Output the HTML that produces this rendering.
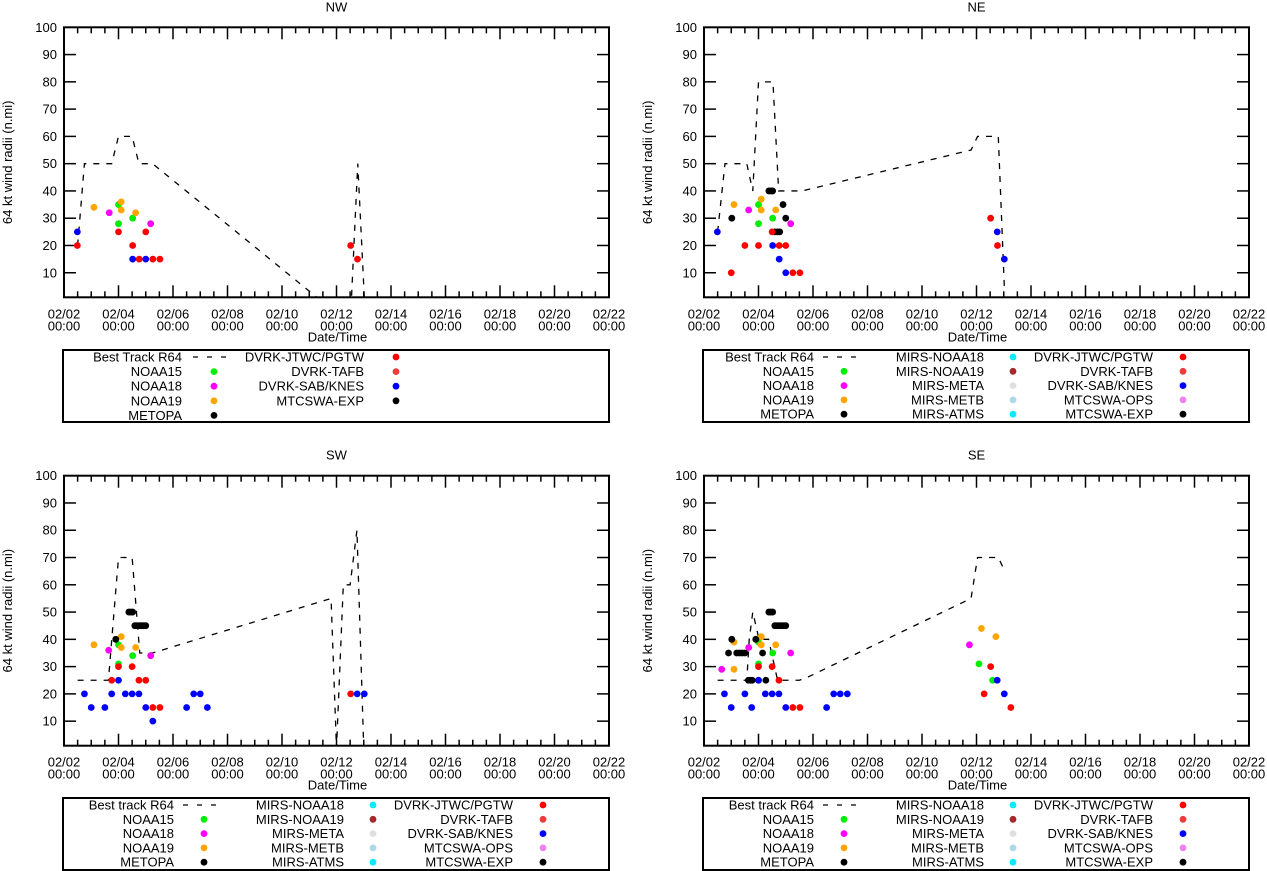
<!DOCTYPE html>
<html><head><meta charset="utf-8">
<style>
html,body{margin:0;padding:0;background:#fff;}
svg{display:block;font-family:"Liberation Sans",sans-serif;}
</style></head>
<body>
<svg id="chart" width="1267" height="871" xmlns="http://www.w3.org/2000/svg"></svg>
<script>
// ---- data: [day since 02/02 00:00, radius n.mi] ----
const nwBest = [[0.5,20],[0.75,50],[1.75,50],[2.0,60],[2.5,60],[2.75,50],[3.25,50],[9.4,0],[10.5,-10],[10.78,50],[11.05,-5]];
const nwGreen = [[2.0,35],[2.0,28],[2.52,30]];
const nwMagenta = [[1.66,32],[3.18,28]];
const nwOrange = [[1.1,34],[2.1,36],[2.1,33],[2.63,32]];
const nwRed = [[0.49,20],[2.0,25],[2.52,20],[2.76,15],[3.0,25],[3.26,15],[3.52,15],[10.52,20],[10.77,15]];
const nwBlue = [[0.49,25],[2.52,15],[3.0,15]];
const nwBlack = [];

const neBest = [[0.5,25],[0.77,50],[1.57,50],[1.79,40],[2.0,80],[2.06,80],[2.53,80],[2.74,40],[3.6,40],[9.8,55],[10.04,60],[10.8,60],[11.02,5]];
const neGreen = [[2.0,35],[2.0,28],[2.52,30]];
const neMagenta = [[1.64,33],[3.18,28]];
const neOrange = [[1.1,35],[2.1,37],[2.1,33],[2.63,33]];
const neRed = [[1.0,10],[1.5,20],[2.0,20],[2.5,25],[2.76,20],[3.0,20],[3.26,10],[3.52,10],[10.52,30],[10.77,20]];
const neBlue = [[0.49,25],[2.52,20],[2.76,15],[3.0,10],[10.76,25],[11.02,15]];
const neBlack = [[1.02,30],[2.38,40],[2.45,40],[2.52,40],[2.6,25],[2.7,25],[2.78,25],[2.9,35],[3.0,30]];

const swBest = [[0.5,25],[1.63,25],[2.0,70],[2.5,70],[2.78,35],[3.25,35],[9.8,55],[10.0,0],[10.25,60],[10.5,60],[10.75,80],[11.0,0]];
const swGreen = [[2.0,38],[2.0,31],[2.52,34]];
const swMagenta = [[1.64,36],[3.18,34]];
const swOrange = [[1.1,38],[2.1,41],[2.1,37],[2.63,37]];
const swRed = [[1.75,25],[2.0,30],[2.5,30],[2.75,25],[3.0,25],[3.26,15],[3.52,15],[10.52,20]];
const swBlue = [[0.75,20],[1.0,15],[1.5,15],[1.75,20],[2.0,25],[2.25,20],[2.5,20],[2.75,20],[3.0,15],[3.26,10],[4.5,15],[4.76,20],[5.0,20],[5.26,15],[10.76,20],[11.02,20]];
const swBlack = [[1.9,40],[2.38,50],[2.45,50],[2.52,50],[2.6,45],[2.68,45],[2.76,45],[2.84,45],[2.92,45],[3.0,45]];

const seBest = [[0.5,25],[1.57,25],[1.66,40],[1.79,50],[2.02,40],[2.37,40],[2.7,25],[3.5,25],[3.78,26],[9.8,55],[10.04,70],[10.8,70],[11.04,65]];
const seGreen = [[2.0,31],[2.0,39],[2.52,35],[10.09,31],[10.59,25]];
const seMagenta = [[0.65,29],[1.64,37],[3.18,35],[9.74,38]];
const seOrange = [[1.1,39],[1.1,29],[2.1,41],[2.1,38],[2.63,38],[10.18,44],[10.71,41]];
const seRed = [[2.0,30],[2.5,30],[2.75,25],[3.26,15],[3.52,15],[10.28,20],[10.52,30],[11.26,15]];
const seBlue = [[0.75,20],[1.0,15],[1.5,20],[1.75,15],[2.0,25],[2.25,20],[2.5,20],[2.75,20],[3.0,15],[4.5,15],[4.76,20],[5.0,20],[5.26,20],[10.76,25],[11.02,20]];
const seBlack = [[0.9,35],[1.02,40],[1.2,35],[1.3,35],[1.4,35],[1.5,35],[1.63,25],[1.7,25],[1.77,25],[1.9,40],[2.0,25],[2.15,35],[2.27,25],[2.38,50],[2.45,50],[2.52,50],[2.6,45],[2.68,45],[2.76,45],[2.84,45],[2.92,45],[3.0,45]];

const xTickLabels = ["02/02","02/04","02/06","02/08","02/10","02/12","02/14","02/16","02/18","02/20","02/22"];
const yTickValues = [10,20,30,40,50,60,70,80,90,100];

const COL = {green:"#00ee00",magenta:"#ff00ff",orange:"#ffa500",red:"#ff0000",blue:"#0000ff",black:"#000000",
  tafb:"#ee3b3b",cyan:"#00eeff",brown:"#a52a2a",lgrey:"#e0e0e0",lblue:"#add8e6",violet:"#ee82ee"};

const svg = document.getElementById('chart');
const NS = "http://www.w3.org/2000/svg";
function mk(tag, attrs, parent){
  const e = document.createElementNS(NS, tag);
  for (const k in attrs) e.setAttribute(k, attrs[k]);
  (parent||svg).appendChild(e);
  return e;
}

function panel(key, title, x0, yTop, series){
  const W = 545, H = 270, yBot = yTop + H;
  const g = mk('g', {});
  
  
  const xs = d => x0 + d * W / 20;
  const ys = v => yBot - (v - 1) * H / 99;
  const clipId = 'clip-' + key;
  const cp = mk('clipPath', {id: clipId}, g);
  mk('rect', {x: x0, y: yTop, width: W, height: H}, cp);

  const t = mk('text', {x: x0 + W/2, y: yTop - 16, 'text-anchor': 'middle', 'font-size': 13}, g);
  t.textContent = title;
  
  

  // y ticks
  yTickValues.forEach(v => {
    const y = ys(v);
    mk('line', {x1: x0, x2: x0 + 12, y1: y, y2: y, stroke: '#000', 'stroke-width': 1.5}, g);
    mk('line', {x1: x0 + W - 12, x2: x0 + W, y1: y, y2: y, stroke: '#000', 'stroke-width': 1.5}, g);
    const l = mk('text', {x: x0 - 7, y: y + 4.5, 'text-anchor': 'end', 'font-size': 13}, g);
    l.textContent = v;
    
    
  });
  // x ticks
  for (let i = 0; i <= 40; i++) {
    const x = xs(i / 2);
    const len = (i % 4 === 0) ? 12 : 6;
    mk('line', {x1: x, x2: x, y1: yBot, y2: yBot - len, stroke: '#000', 'stroke-width': 1.5}, g);
    mk('line', {x1: x, x2: x, y1: yTop, y2: yTop + len, stroke: '#000', 'stroke-width': 1.5}, g);
  }
  xTickLabels.forEach((lab, i) => {
    const x = xs(i * 2);
    const l = mk('text', {x: x, y: yBot + 21, 'text-anchor': 'middle', 'font-size': 13}, g);
    l.textContent = lab;
    
    
    const l2 = mk('text', {x: x, y: yBot + 33, 'text-anchor': 'middle', 'font-size': 13}, g);
    l2.textContent = '00:00';
    
    
  });
  const xt = mk('text', {x: x0 + W/2 + 1, y: yBot + 44, 'text-anchor': 'middle', 'font-size': 13}, g);
  xt.textContent = 'Date/Time';
  
  
  const yc = yTop + H/2;
  const yt = mk('text', {x: x0 - 52, y: yc, 'text-anchor': 'middle', 'font-size': 13, transform: `rotate(-90 ${x0-52} ${yc})`}, g);
  yt.textContent = '64 kt wind radii (n.mi)';
  
  

  // best track
  const pl = mk('polyline', {points: series.best.map(p => xs(p[0]) + ',' + ys(p[1])).join(' '),
    fill: 'none', stroke: '#000', 'stroke-width': 1.3, 'stroke-dasharray': '6,7', 'clip-path': `url(#${clipId})`}, g);
  
  

  series.dots.forEach(s => {
    s.data.forEach(p => {
      const c = mk('circle', {cx: xs(p[0]), cy: ys(p[1]), r: 3.4, fill: s.color}, g);
      
      
    });
  });

  const fr = mk('rect', {x: x0, y: yTop, width: W, height: H, fill: 'none', stroke: '#000', 'stroke-width': 2}, g);
  
  
}

function legend(key, x0, yTop, cols, textEnds, symXs, rowStep){
  const g = mk('g', {});
  
  
  const box = mk('rect', {x: x0, y: yTop, width: 546, height: 72, fill: 'none', stroke: '#000', 'stroke-width': 2}, g);
  
  
  cols.forEach((col, ci) => {
    col.forEach((ent, ri) => {
      const cy = yTop + 7 + ri * rowStep;
      const tx = mk('text', {x: x0 + textEnds[ci], y: cy + 4.5, 'text-anchor': 'end', 'font-size': 13}, g);
      tx.textContent = ent[0];
      
      
      if (ent[1] === 'dash') {
        const sx = x0 + symXs[ci];
        const ln = mk('line', {x1: sx - 21, x2: sx + 14, y1: cy, y2: cy, stroke: '#000', 'stroke-width': 1.3, 'stroke-dasharray': '5,9'}, g);
        
        
      } else {
        const c = mk('circle', {cx: x0 + symXs[ci], cy: cy, r: 3.4, fill: ent[1]}, g);
        
        
      }
    });
  });
}

function dots(gr, mg, or, rd, bl, bk){
  return [
    {name:'noaa15', color: COL.green, data: gr},
    {name:'noaa18', color: COL.magenta, data: mg},
    {name:'noaa19', color: COL.orange, data: or},
    {name:'metopa', color: COL.black, data: bk},
    {name:'dvrk-jtwc', color: COL.red, data: rd},
    {name:'dvrk-sab', color: COL.blue, data: bl}
  ];
}

panel('nw', 'NW', 64, 27.3, {best: nwBest, dots: dots(nwGreen, nwMagenta, nwOrange, nwRed, nwBlue, nwBlack)});
panel('ne', 'NE', 704, 27.3, {best: neBest, dots: dots(neGreen, neMagenta, neOrange, neRed, neBlue, neBlack)});
panel('sw', 'SW', 64, 475.7, {best: swBest, dots: dots(swGreen, swMagenta, swOrange, swRed, swBlue, swBlack)});
panel('se', 'SE', 704, 475.7, {best: seBest, dots: dots(seGreen, seMagenta, seOrange, seRed, seBlue, seBlack)});

const base1 = [['NOAA15', COL.green],['NOAA18', COL.magenta],['NOAA19', COL.orange],['METOPA', COL.black]];
const mirs = [['MIRS-NOAA18', COL.cyan],['MIRS-NOAA19', COL.brown],['MIRS-META', COL.lgrey],['MIRS-METB', COL.lblue],['MIRS-ATMS', COL.cyan]];
const dvrk3 = [['DVRK-JTWC/PGTW', COL.red],['DVRK-TAFB', COL.tafb],['DVRK-SAB/KNES', COL.blue],['MTCSWA-OPS', COL.violet],['MTCSWA-EXP', COL.black]];

legend('nw', 63, 350, [[['Best Track R64','dash']].concat(base1),
  [['DVRK-JTWC/PGTW', COL.red],['DVRK-TAFB', COL.tafb],['DVRK-SAB/KNES', COL.blue],['MTCSWA-EXP', COL.black]]],
  [119, 301], [151, 333], 14.6);
legend('ne', 703, 350, [[['Best Track R64','dash']].concat(base1), mirs, dvrk3], [111, 281, 450], [141, 310, 480], 14.3);
legend('sw', 63, 798, [[['Best track R64','dash']].concat(base1), mirs, dvrk3], [111, 281, 450], [141, 310, 480], 14.3);
legend('se', 703, 798, [[['Best track R64','dash']].concat(base1), mirs, dvrk3], [111, 281, 450], [141, 310, 480], 14.3);
</script>
</body></html>
